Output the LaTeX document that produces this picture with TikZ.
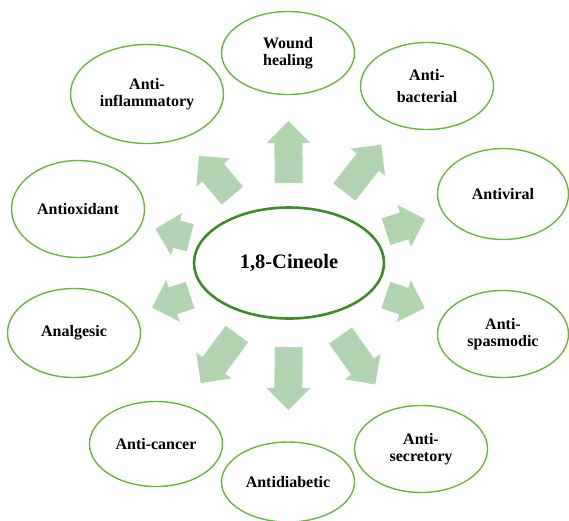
\documentclass[tikz,border=0pt]{standalone}
\usepackage{fontspec}
\setmainfont{Liberation Serif}
\usetikzlibrary{shapes.geometric,calc}

\definecolor{outergreen}{HTML}{6DB33F}
\definecolor{hubgreen}{HTML}{3C8C28}
\definecolor{arrowgreen}{HTML}{B3D4B0}

\tikzset{
  effect/.style={ellipse, draw=outergreen, line width=1.4pt, align=center, inner sep=0pt,
    font=\bfseries\fontsize{16}{17}\selectfont},
  hub/.style={ellipse, draw=hubgreen, line width=2.6pt, inner sep=0pt,
    font=\bfseries\fontsize{20.5}{22}\selectfont},
  fatarrow/.style={fill=arrowgreen}
}

\begin{document}
\begin{tikzpicture}[x=1pt,y=-1pt]
  \useasboundingbox (0,0) rectangle (569,520);
  % centre
  \node[hub, minimum width=190pt, minimum height=111pt] (cineole) at (289,263) {1,8-Cineole};
  % effects
  \node[effect, minimum width=133pt, minimum height=83pt] (wound) at (288,53) {Wound\\healing};
  \node[effect, minimum width=133pt, minimum height=87pt] (bacterial) at (427,86) {Anti-\\[5pt]bacterial};
  \node[effect, minimum width=131pt, minimum height=91pt] (antiviral) at (503,194) {Antiviral};
  \node[effect, minimum width=131pt, minimum height=87pt] (spasmodic) at (503,334) {Anti-\\spasmodic};
  \node[effect, minimum width=133pt, minimum height=87pt] (secretory) at (421,449) {Anti-\\secretory};
  \node[effect, minimum width=133pt, minimum height=80pt] (diabetic) at (288,482) {Antidiabetic};
  \node[effect, minimum width=133pt, minimum height=85pt] (cancer) at (156,444) {Anti-cancer};
  \node[effect, minimum width=133pt, minimum height=89pt] (analgesic) at (74,333) {Analgesic};
  \node[effect, minimum width=133pt, minimum height=97pt] (antioxidant) at (78,209) {Antioxidant};
  \node[effect, minimum width=153pt, minimum height=99pt] (inflammatory) at (147,94) {Anti-\\inflammatory};
  % block arrows
  \foreach \t/\a/\b in {wound/80pt/142pt, bacterial/90pt/150pt, antiviral/102pt/143pt,
      spasmodic/102pt/143pt, secretory/89pt/149pt, diabetic/84pt/147pt, cancer/88pt/149pt,
      analgesic/104pt/144pt, antioxidant/102pt/138pt, inflammatory/88pt/140pt} {
    \coordinate (s) at ($(cineole.center)!\a!(\t.center)$);
    \coordinate (e) at ($(cineole.center)!\b!(\t.center)$);
    \coordinate (h) at ($(e)!22pt!(s)$);
    \fill[fatarrow] ($(s)!14pt!90:(e)$) -- ($(h)!14pt!90:(e)$) -- ($(h)!22pt!90:(e)$) -- (e)
      -- ($(h)!22pt!-90:(e)$) -- ($(h)!14pt!-90:(e)$) -- ($(s)!14pt!-90:(e)$) -- cycle;
  }
\end{tikzpicture}
\end{document}
